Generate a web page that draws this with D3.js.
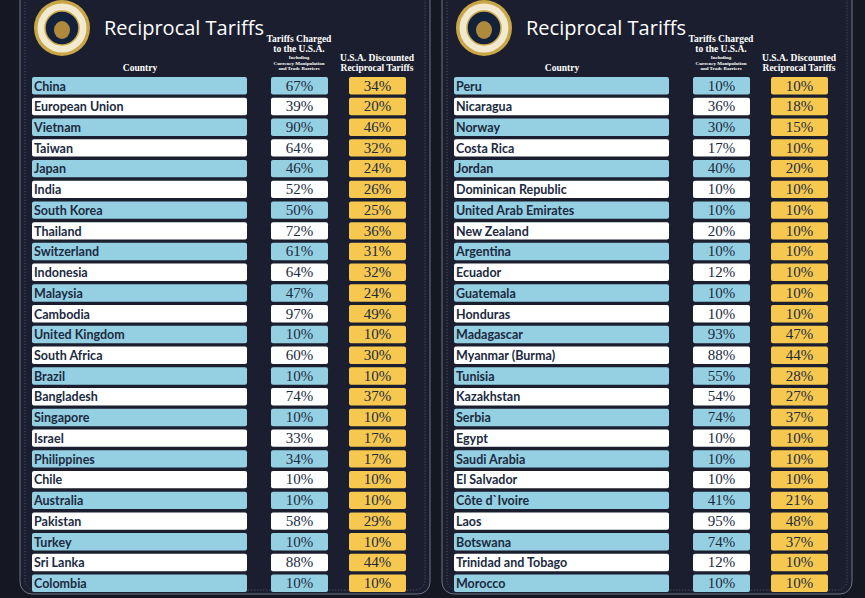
<!DOCTYPE html>
<html><head><meta charset="utf-8">
<script src="https://cdn.jsdelivr.net/npm/d3@7"></script>
<style>body{margin:0;background:#151722}</style></head>
<body><svg id="c" width="865" height="598"></svg>
<script>
const countriesLeft = ["China","European Union","Vietnam","Taiwan","Japan","India","South Korea","Thailand","Switzerland","Indonesia","Malaysia","Cambodia","United Kingdom","South Africa","Brazil","Bangladesh","Singapore","Israel","Philippines","Chile","Australia","Pakistan","Turkey","Sri Lanka","Colombia"];
const chargedLeft = [67,39,90,64,46,52,50,72,61,64,47,97,10,60,10,74,10,33,34,10,10,58,10,88,10];
const reciprocalLeft = [34,20,46,32,24,26,25,36,31,32,24,49,10,30,10,37,10,17,17,10,10,29,10,44,10];
const countriesRight = ["Peru","Nicaragua","Norway","Costa Rica","Jordan","Dominican Republic","United Arab Emirates","New Zealand","Argentina","Ecuador","Guatemala","Honduras","Madagascar","Myanmar (Burma)","Tunisia","Kazakhstan","Serbia","Egypt","Saudi Arabia","El Salvador","Côte d`Ivoire","Laos","Botswana","Trinidad and Tobago","Morocco"];
const chargedRight = [10,36,30,17,40,10,10,20,10,12,10,10,93,88,55,54,74,10,10,10,41,95,74,12,10];
const reciprocalRight = [10,18,15,10,20,10,10,10,10,10,10,10,47,44,28,27,37,10,10,10,21,48,37,10,10];

const svg = d3.select("#c");
svg.append("rect").attr("width",865).attr("height",598).attr("fill","#151722");
const y = d3.scaleBand().domain(d3.range(25)).range([77,592]).paddingInner(0.16).paddingOuter(0);
const navy="#1b2a3f";

function panel(ox, countries, charged, recip){
  const g = svg.append("g").attr("transform",`translate(${ox},0)`);
  g.append("rect").attr("x",-2).attr("y",-12).attr("width",410).attr("height",606).attr("rx",12)
    .attr("fill","#1b1e2e").attr("stroke","#6d7286").attr("stroke-width",1);
  g.append("rect").attr("x",3).attr("y",-8).attr("width",400).attr("height",598).attr("rx",10)
    .attr("fill","none").attr("stroke","#565b70").attr("stroke-dasharray","1,2");
  g.append("circle").attr("cx",40).attr("cy",28).attr("r",28).attr("fill","#c9a646");
  g.append("circle").attr("cx",40).attr("cy",28).attr("r",24.5).attr("fill","#f1ead0");
  g.append("circle").attr("cx",40).attr("cy",28).attr("r",17).attr("fill","#14213a").attr("stroke","#c9a646").attr("stroke-width",1.5);
  g.append("ellipse").attr("cx",40).attr("cy",30).attr("rx",8).attr("ry",9).attr("fill","#b08a3c");
  g.append("text").attr("x",82).attr("y",35).attr("fill","#fff").attr("font-family","Open Sans").attr("font-size",20).text("Reciprocal Tariffs");
  const hf={"font-family":"Liberation Serif","font-weight":"bold","fill":"#fff","text-anchor":"middle"};
  const ht=(x,yy,s,t)=>{const e=g.append("text").attr("x",x).attr("y",yy).attr("font-size",s).text(t);for(const k in hf)e.attr(k,hf[k]);};
  ht(118,71,9.5,"Country");
  ht(277,42,9.5,"Tariffs Charged");ht(277,52,9.5,"to the U.S.A.");
  ht(277,59,5,"Including");ht(277,65,5,"Currency Manipulation");ht(277,70,5,"and Trade Barriers");
  ht(355,61,9.5,"U.S.A. Discounted");ht(355,71,9.5,"Reciprocal Tariffs");
  const rows = g.selectAll("g.r").data(countries.map((c,i)=>({c,i,a:charged[i],b:recip[i]}))).join("g").attr("class","r");
  const fill=d=>d.i%2===0?"#95d0e2":"#ffffff";
  rows.append("rect").attr("x",10).attr("y",d=>y(d.i)).attr("width",215).attr("height",y.bandwidth()).attr("rx",2).attr("fill",fill);
  rows.append("rect").attr("x",249).attr("y",d=>y(d.i)).attr("width",57).attr("height",y.bandwidth()).attr("rx",2).attr("fill",fill);
  rows.append("rect").attr("x",327).attr("y",d=>y(d.i)).attr("width",57).attr("height",y.bandwidth()).attr("rx",2).attr("fill","#f6c84f");
  const cy=d=>y(d.i)+y.bandwidth()/2+4.8;
  rows.append("text").attr("x",12).attr("y",cy).attr("fill",navy).attr("font-family","Lato").attr("font-weight","bold").attr("font-size",12.5).text(d=>d.c);
  rows.append("text").attr("x",277.5).attr("y",cy).attr("text-anchor","middle").attr("fill",navy).attr("font-family","Liberation Serif").attr("font-size",15).text(d=>d.a+"%");
  rows.append("text").attr("x",355.5).attr("y",cy).attr("text-anchor","middle").attr("fill",navy).attr("font-family","Liberation Serif").attr("font-size",15).text(d=>d.b+"%");
}
panel(22,countriesLeft,chargedLeft,reciprocalLeft);
panel(444,countriesRight,chargedRight,reciprocalRight);
</script></body></html>
